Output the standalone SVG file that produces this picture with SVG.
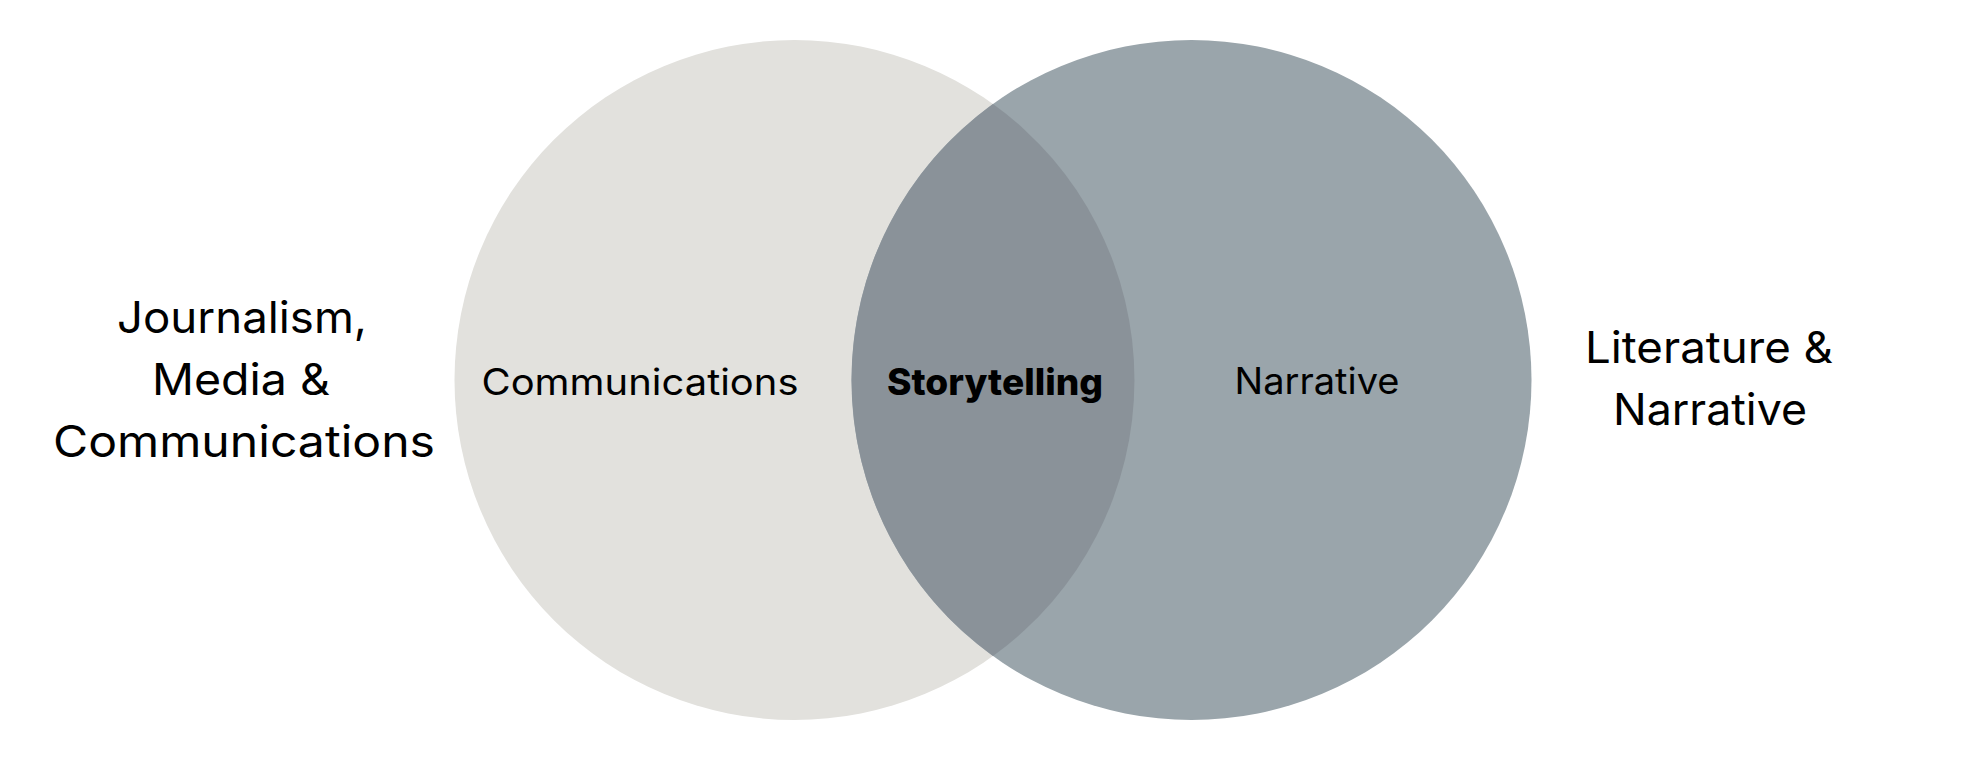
<svg xmlns="http://www.w3.org/2000/svg" width="1984" height="770" viewBox="0 0 1984 770">
  <style>
    text { font-family: Inter, "Open Sans", "Liberation Sans", sans-serif; fill: #000; text-anchor: middle; }
    .inner { font-size: 37px; font-weight: 400; }
    .bold { font-size: 37px; font-weight: 800; }
    .outer { font-size: 44px; font-weight: 400; }
  </style>
  <rect width="1984" height="770" fill="#ffffff"/>
  <g id="circle-communications">
    <circle cx="794.5" cy="380" r="340" fill="#E2E1DD"/>
  </g>
  <g id="circle-narrative">
    <circle cx="1191.5" cy="380" r="340" fill="#9AA5AB"/>
  </g>
  <g id="overlap-storytelling">
    <path d="M993 104 A340 340 0 0 1 993 656 A340 340 0 0 1 993 104 Z" fill="#8A9299"/>
    <text class="bold" x="995" y="395" textLength="216" lengthAdjust="spacingAndGlyphs">Storytelling</text>
  </g>
  <g id="label-communications">
    <text class="inner" x="640" y="395" textLength="317" lengthAdjust="spacingAndGlyphs">Communications</text>
  </g>
  <g id="label-narrative">
    <text class="inner" x="1317" y="394" textLength="165" lengthAdjust="spacingAndGlyphs">Narrative</text>
  </g>
  <g id="label-journalism">
    <text class="outer" x="242" y="333" textLength="250" lengthAdjust="spacingAndGlyphs">Journalism,</text>
    <text class="outer" x="241" y="395" textLength="178" lengthAdjust="spacingAndGlyphs">Media &amp;</text>
    <text class="outer" x="244" y="457" textLength="382" lengthAdjust="spacingAndGlyphs">Communications</text>
  </g>
  <g id="label-literature">
    <text class="outer" x="1709" y="363" textLength="248" lengthAdjust="spacingAndGlyphs">Literature &amp;</text>
    <text class="outer" x="1710" y="425" textLength="194" lengthAdjust="spacingAndGlyphs">Narrative</text>
  </g>
</svg>
